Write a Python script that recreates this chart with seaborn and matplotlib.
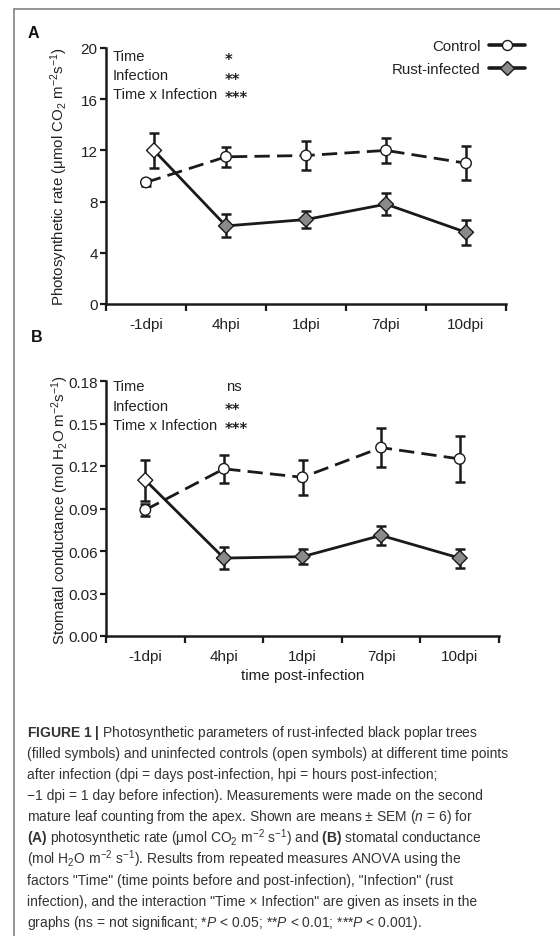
import numpy as np
import pandas as pd
import matplotlib
matplotlib.use("Agg")
import matplotlib.pyplot as plt
from matplotlib.lines import Line2D
import seaborn as sns

# ---------------- data ----------------
timepoints = ["-1dpi", "4hpi", "1dpi", "7dpi", "10dpi"]
groups = ["Control", "Rust-infected"]

photo_control = [9.5, 11.5, 11.6, 12.0, 11.0]
photo_control_sem = [0.3, 0.8, 1.1, 1.0, 1.35]
photo_rust = [12.0, 6.1, 6.6, 7.8, 5.6]
photo_rust_sem = [1.35, 0.9, 0.7, 0.85, 1.0]

cond_control = [0.089, 0.118, 0.112, 0.133, 0.125]
cond_control_sem = [0.004, 0.010, 0.0125, 0.0135, 0.016]
cond_rust = [0.110, 0.055, 0.056, 0.071, 0.055]
cond_rust_sem = [0.0145, 0.0076, 0.0055, 0.007, 0.0067]

# open symbol for pre-infection time point, filled afterwards
rust_fill = ["open", "filled", "filled", "filled", "filled"]
control_fill = ["open"] * 5

stats_labels = ["Time", "Infection", "Time x Infection"]
photo_stats = ["*", "**", "***"]
cond_stats = ["ns", "**", "***"]

photo_ticks = [0, 4, 8, 12, 16, 20]
cond_ticks = [0.00, 0.03, 0.06, 0.09, 0.12, 0.15, 0.18]

# ---------------- style ----------------
sns.set_theme(style="white")
plt.rcParams["font.family"] = ["Liberation Sans", "DejaVu Sans"]
plt.rcParams["mathtext.fontset"] = "custom"
plt.rcParams["mathtext.rm"] = "Liberation Sans"
plt.rcParams["mathtext.it"] = "Liberation Sans:italic"
plt.rcParams["mathtext.bf"] = "Liberation Sans:bold"

W, H = 560, 937
fig = plt.figure(figsize=(W / 100, H / 100), dpi=100)


def fx(x):
    return x / W


def fy(y):
    return 1 - y / H


def build_df(ctrl, ctrl_sem, rust, rust_sem, first_shift):
    rows = []
    for i, t in enumerate(timepoints):
        rows.append(dict(pos=i, time=t, group="Control", value=ctrl[i],
                         sem=ctrl_sem[i], fill=control_fill[i]))
        rows.append(dict(pos=i + (first_shift if i == 0 else 0), time=t,
                         group="Rust-infected", value=rust[i],
                         sem=rust_sem[i], fill=rust_fill[i]))
    return pd.DataFrame(rows)


INK = "#1a1a1a"
GRAY = "#8a8a8a"
TXT = "#222222"


def draw_panel(ax, df, ticks, ylim, ylabel, fmt, show_xlabel):
    sns.lineplot(data=df, x="pos", y="value", hue="group", style="group",
                 palette={"Control": INK, "Rust-infected": INK},
                 dashes={"Control": (5.5, 2.6), "Rust-infected": ""},
                 linewidth=2.0, ax=ax, legend=False, zorder=2)
    for g in groups:
        d = df[df.group == g]
        ax.errorbar(d["pos"], d["value"], yerr=d["sem"], fmt="none",
                    ecolor=INK, elinewidth=1.8, capsize=3.5, capthick=1.8,
                    zorder=3)
    sns.scatterplot(data=df, x="pos", y="value", hue="fill", style="group",
                    palette={"open": "white", "filled": GRAY},
                    markers={"Control": "o", "Rust-infected": "D"},
                    s=58, edgecolor=INK, linewidth=1.0, ax=ax, legend=False,
                    zorder=4)
    ax.set_xlim(-0.5, 4.5)
    ax.set_ylim(*ylim)
    ax.set_yticks(ticks)
    ax.set_yticklabels([fmt.format(t) for t in ticks])
    ax.set_xticks(np.arange(-0.5, 5.0, 1.0))
    ax.set_xticklabels([])
    ax.set_xticks(range(len(timepoints)), minor=True)
    ax.set_xticklabels(timepoints, minor=True)
    ax.tick_params(axis="x", which="major", direction="out", length=5,
                   width=1.6, color=INK, bottom=True)
    ax.tick_params(axis="x", which="minor", length=0, pad=9,
                   labelsize=11, labelcolor=TXT)
    ax.tick_params(axis="y", direction="out", length=4, width=1.6,
                   color=INK, pad=2, labelsize=11, labelcolor=TXT,
                   left=True)
    for sp in ["top", "right"]:
        ax.spines[sp].set_visible(False)
    for sp in ["left", "bottom"]:
        ax.spines[sp].set_linewidth(1.8)
        ax.spines[sp].set_color(INK)
    ax.set_ylabel(ylabel, fontsize=10.8, color=TXT)
    ax.yaxis.set_label_coords(-0.09, 0.5)
    ax.set_xlabel("time post-infection" if show_xlabel else "",
                  fontsize=11, color=TXT, labelpad=4)
    ax.set_facecolor("white")


# Panel A
axA = fig.add_axes([fx(106), fy(305), fx(506) - fx(106), fy(49) - fy(305)])
dfA = build_df(photo_control, photo_control_sem, photo_rust, photo_rust_sem,
               0.1)
draw_panel(axA, dfA, photo_ticks, (0, 20),
           r"Photosynthetic rate ($\mathrm{\mu}$mol CO$_2$ m$^{-2}$s$^{-1}$)",
           "{:g}", False)

# Panel B
axB = fig.add_axes([fx(106), fy(637), fx(499) - fx(106), fy(382) - fy(637)])
dfB = build_df(cond_control, cond_control_sem, cond_rust, cond_rust_sem, 0.0)
draw_panel(axB, dfB, cond_ticks, (0, 0.18),
           r"Stomatal conductance (mol H$_2$O m$^{-2}$s$^{-1}$)",
           "{:.2f}", True)

# stats insets
for ys, vals in [((57, 76, 95), photo_stats), ((387, 407, 426), cond_stats)]:
    for y, lab, v in zip(ys, stats_labels, vals):
        fig.text(fx(113), fy(y), lab, fontsize=10.6, va="center", ha="left",
                 color=TXT)
        if "*" in v:
            fig.text(fx(225), fy(y + 4), v, fontsize=10.5, va="center",
                     ha="left", color=TXT, fontweight="bold",
                     family=["DejaVu Sans"])
        else:
            fig.text(fx(226), fy(y), v, fontsize=10.6, va="center",
                     ha="left", color=TXT)

# legend
handles = [
    Line2D([], [], color=INK, lw=2.6, marker="o", markersize=7.2,
           markerfacecolor="white", markeredgecolor=INK, markeredgewidth=1.0),
    Line2D([], [], color=INK, lw=2.6, marker="D", markersize=6.8,
           markerfacecolor=GRAY, markeredgecolor=INK, markeredgewidth=1.0),
]
leg = axA.legend(handles, groups, loc="upper right", markerfirst=False,
                 frameon=False, fontsize=10.8, handlelength=2.4,
                 handletextpad=0.55, labelspacing=0.62,
                 bbox_to_anchor=(fx(531), fy(34)),
                 bbox_transform=fig.transFigure, borderaxespad=0)
for t in leg.get_texts():
    t.set_color(TXT)

# panel letters
fig.text(fx(33), fy(34), "A", fontsize=11.5, fontweight="bold", ha="center",
         va="center", color="#111111")
fig.text(fx(37), fy(337), "B", fontsize=11.5, fontweight="bold", ha="center",
         va="center", color="#111111")

# caption
caption_lines = [
    r"$\mathbf{FIGURE\ 1\ |}$ Photosynthetic parameters of rust-infected black poplar trees",
    "(filled symbols) and uninfected controls (open symbols) at different time points",
    "after infection (dpi = days post-infection, hpi = hours post-infection;",
    "\u22121 dpi = 1 day before infection). Measurements were made on the second",
    r"mature leaf counting from the apex. Shown are means $\pm$ SEM ($\it{n}$ = 6) for",
    r"$\mathbf{(A)}$ photosynthetic rate ($\mathrm{\mu}$mol CO$_2$ m$^{-2}$ s$^{-1}$) and $\mathbf{(B)}$ stomatal conductance",
    r"(mol H$_2$O m$^{-2}$ s$^{-1}$). Results from repeated measures ANOVA using the",
    "factors \"Time\" (time points before and post-infection), \"Infection\" (rust",
    "infection), and the interaction \"Time \u00d7 Infection\" are given as insets in the",
    r"graphs (ns = not significant; *$\it{P}$ < 0.05; **$\it{P}$ < 0.01; ***$\it{P}$ < 0.001).",
]
for i, line in enumerate(caption_lines):
    fig.text(fx(27), fy(733 + i * 21.1), line, fontsize=10.0, ha="left",
             va="center", color="#333333")

# frame lines (left and top)
fig.add_artist(Line2D([fx(14), fx(14)], [fy(10), fy(937)], color="#8c8c8c",
                      lw=1.3, transform=fig.transFigure))
fig.add_artist(Line2D([fx(14), fx(560)], [fy(10), fy(10)], color="#8c8c8c",
                      lw=1.3, transform=fig.transFigure))

fig.savefig("out.png", dpi=100, facecolor="white")
